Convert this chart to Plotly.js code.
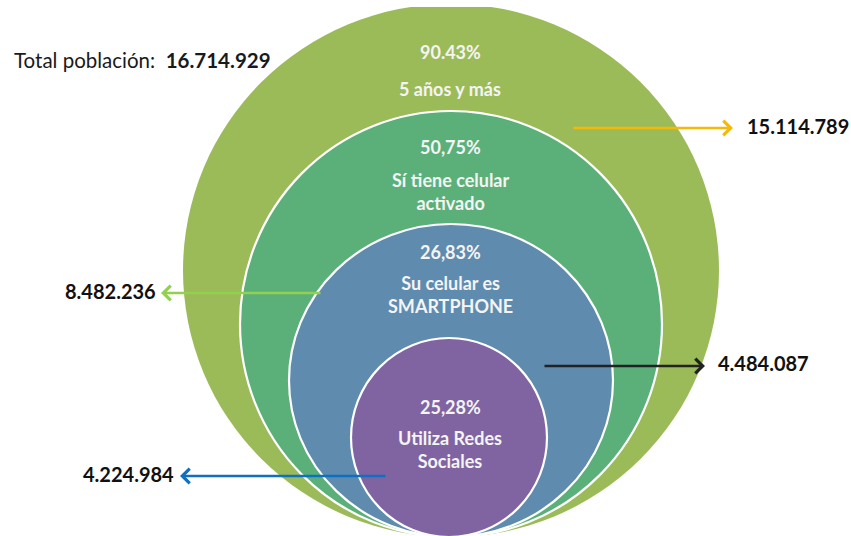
<!DOCTYPE html>
<html>
<head>
<meta charset="utf-8">
<script src="https://cdn.plot.ly/plotly-3.0.1.min.js"></script>
<style>html,body{margin:0;padding:0;background:#fff;}#chart{width:851px;height:536px;}</style>
</head>
<body>
<div id="chart"></div>
<script>
// ---- data ----
const levels = ['5 años y más', 'Sí tiene celular<br>activado', 'Su celular es<br>SMARTPHONE', 'Utiliza Redes<br>Sociales'];
const percents = ['90.43%', '50,75%', '26,83%', '25,28%'];
const counts = ['15.114.789', '8.482.236', '4.484.087', '4.224.984'];
const totalLabel = 'Total población:';
const totalValue = '16.714.929';

// ---- styling / geometry (not data) ----
const fills = ['#9BBB59', '#5BB07A', '#5F8BAE', '#8064A2'];
const arrowColors = ['#F5B90A', '#92D050', '#222222', '#0F70C0'];
const ellipses = [
  {x0: 183, x1: 719, y0: 4, y1: 537},
  {x0: 240, x1: 662, y0: 111, y1: 537},
  {x0: 289, x1: 613, y0: 224, y1: 537},
  {x0: 351, x1: 547, y0: 338, y1: 537}
];
const pctY = [52, 147, 252, 407];
const lvlY = [89, 191.5, 294, 449];
const arrows = [
  {tail: 572, head: 733, y: 128, labelX: 745, anchor: 'left', labelY: 126},
  {tail: 322, head: 161, y: 293, labelX: 158, anchor: 'right', labelY: 291},
  {tail: 543, head: 705, y: 366, labelX: 716, anchor: 'left', labelY: 363},
  {tail: 387, head: 180, y: 476, labelX: 176, anchor: 'right', labelY: 474}
];
const cx = 450;
const FONT = 'Lato, "Open Sans", sans-serif';

const shapes = ellipses.map((e, i) => ({
  type: 'circle', xref: 'x', yref: 'y', layer: 'above',
  x0: e.x0, x1: e.x1, y0: e.y0, y1: e.y1,
  fillcolor: fills[i],
  line: {color: i === 0 ? fills[0] : '#FFFFFF', width: i === 0 ? 0 : 2.2}
}));

const annotations = [];
percents.forEach((p, i) => {
  annotations.push({x: cx, y: pctY[i], xref: 'x', yref: 'y', text: '<b>' + p + '</b>', showarrow: false,
    font: {family: FONT, size: 18, color: '#F4F4F4'}, xanchor: 'center', yanchor: 'middle'});
  annotations.push({x: cx, y: lvlY[i], xref: 'x', yref: 'y', text: '<b>' + levels[i] + '</b>', showarrow: false,
    font: {family: FONT, size: 18, color: '#F4F4F4'}, xanchor: 'center', yanchor: 'middle'});
});
arrows.forEach((a, i) => {
  annotations.push({x: a.head, y: a.y, ax: a.tail, ay: a.y, xref: 'x', yref: 'y', axref: 'x', ayref: 'y',
    text: '', showarrow: true, arrowhead: 4, arrowsize: 1.1, arrowwidth: 2.6, arrowcolor: arrowColors[i]});
  annotations.push({x: a.labelX, y: a.labelY, xref: 'x', yref: 'y', text: '<b>' + counts[i] + '</b>', showarrow: false,
    font: {family: FONT, size: 20, color: '#111111'}, xanchor: a.anchor, yanchor: 'middle'});
});
annotations.push({x: 12, y: 60, xref: 'x', yref: 'y', text: totalLabel + '  <b>' + totalValue + '</b>', showarrow: false,
  font: {family: FONT, size: 20.5, color: '#1a1a1a'}, xanchor: 'left', yanchor: 'middle'});

const layout = {
  width: 851, height: 536,
  margin: {l: 0, r: 0, t: 7, b: 0, pad: 0},
  paper_bgcolor: '#FFFFFF', plot_bgcolor: '#FFFFFF',
  xaxis: {range: [0, 851], visible: false, fixedrange: true},
  yaxis: {range: [536, 7], visible: false, fixedrange: true},
  showlegend: false,
  shapes: shapes,
  annotations: annotations
};
Plotly.newPlot('chart', [{x: [], y: [], type: 'scatter', hoverinfo: 'skip'}], layout, {staticPlot: true, displayModeBar: false});
</script>
</body>
</html>
